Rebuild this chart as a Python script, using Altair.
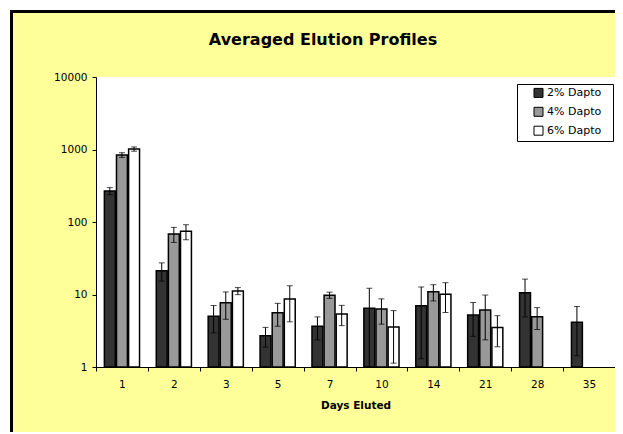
import altair as alt
import pandas as pd

days = ["1", "2", "3", "5", "7", "10", "14", "21", "28", "35"]
series = ["2% Dapto", "4% Dapto", "6% Dapto"]
colors = ["#333333", "#999999", "#FFFFFF"]

v2 = [268, 21.3, 5.0, 2.7, 3.64, 6.45, 7.0, 5.2, 10.6, 4.13]
e2 = [30, 6.0, 2.05, 0.82, 1.27, 5.75, 5.7, 2.55, 5.7, 2.7]
v4 = [840, 68.3, 7.7, 5.6, 9.8, 6.3, 10.9, 6.1, 4.94, None]
e4 = [63, 16, 3.15, 1.95, 0.97, 2.4, 2.75, 3.73, 1.65, None]
v6 = [1016, 74.3, 11.2, 8.7, 5.4, 3.56, 10.1, 3.5, None, None]
e6 = [68, 17.4, 1.25, 4.5, 1.68, 2.43, 4.45, 1.6, None, None]

rows = []
for s, vals, errs in zip(series, [v2, v4, v6], [e2, e4, e6]):
    for d, v, e in zip(days, vals, errs):
        if v is None:
            continue
        rows.append({"day": d, "series": s, "value": v, "base": 1.0,
                     "lo": max(v - e, 1.0), "hi": v + e})
df = pd.DataFrame(rows)

W, H = 519, 290
FONT = "DejaVu Sans"

x_enc = alt.X("day:N", sort=days,
              scale=alt.Scale(paddingInner=0, paddingOuter=0),
              axis=alt.Axis(title="Days Eluted", tickBand="extent", labelAngle=0,
                            tickSize=4, labelPadding=8, titlePadding=11,
                            domainColor="black", tickColor="black"))
xo_enc = alt.XOffset("series:N", sort=series,
                     scale=alt.Scale(domain=series, paddingInner=0.1, paddingOuter=0.69))
y_scale = alt.Scale(type="log", domain=[1, 10000], nice=False)

one = pd.DataFrame({"a": [0]})

white_top = alt.Chart(one).mark_rule(color="white", strokeWidth=3).encode(
    x=alt.value(-100), x2=alt.value(1000), y=alt.value(-68.5))
white_left = alt.Chart(one).mark_rule(color="white", strokeWidth=3).encode(
    x=alt.value(-87.5), y=alt.value(-100), y2=alt.value(1000))
frame_top = alt.Chart(one).mark_rule(color="black", strokeWidth=3).encode(
    x=alt.value(-86), x2=alt.value(1000), y=alt.value(-65.5))
frame_left = alt.Chart(one).mark_rule(color="black", strokeWidth=3).encode(
    x=alt.value(-84.5), y=alt.value(-67), y2=alt.value(1000))
title = alt.Chart(one).mark_text(text="Averaged Elution Profiles", font=FONT, fontSize=16,
                                 fontWeight="bold", color="black", align="center",
                                 baseline="alphabetic").encode(
    x=alt.value(227), y=alt.value(-32.5))

bars = alt.Chart(df).mark_bar(stroke="black", strokeWidth=1.5).encode(
    x=x_enc,
    xOffset=xo_enc,
    y=alt.Y("value:Q", scale=y_scale,
            axis=alt.Axis(title=None, values=[1, 10, 100, 1000, 10000], format="d",
                          tickSize=4, labelPadding=5, domainColor="black", tickColor="black")),
    y2="base:Q",
    color=alt.Color("series:N", sort=series,
                    scale=alt.Scale(domain=series, range=colors),
                    legend=alt.Legend(title=None, orient="none", legendX=421, legendY=7,
                                      fillColor="white", strokeColor="black", padding=3.4,
                                      symbolType="square", symbolSize=81,
                                      symbolStrokeColor="black", symbolStrokeWidth=1,
                                      symbolOffset=12.6, labelOffset=3, rowPadding=5.9,
                                      labelFontSize=11, labelFont=FONT, labelColor="black",
                                      labelExpr="datum.label + '\u2800'")),
)

err = alt.Chart(df).mark_rule(color="black", strokeWidth=1).encode(
    x=x_enc, xOffset=xo_enc, y=alt.Y("lo:Q", scale=y_scale), y2="hi:Q")
cap_hi = alt.Chart(df).mark_tick(color="black", thickness=1, size=6).encode(
    x=x_enc, xOffset=xo_enc, y=alt.Y("hi:Q", scale=y_scale))
cap_lo = alt.Chart(df).mark_tick(color="black", thickness=1, size=6).encode(
    x=x_enc, xOffset=xo_enc, y=alt.Y("lo:Q", scale=y_scale))

chart = alt.layer(white_top, white_left, frame_top, frame_left, title,
                  bars, err, cap_hi, cap_lo).properties(
    width=W, height=H,
    autosize=alt.AutoSizeParams(type="none"),
    padding={"left": 88, "top": 69, "right": 0, "bottom": 65},
    background="#FFFF99",
).configure_axis(
    labelFont=FONT, titleFont=FONT, labelFontSize=10.5, titleFontSize=10.5,
    titleFontWeight="bold", labelColor="black", titleColor="black",
    grid=False,
).configure_view(fill="white", strokeWidth=0)

chart.save("out.html", embed_options={"renderer": "svg", "actions": False})
